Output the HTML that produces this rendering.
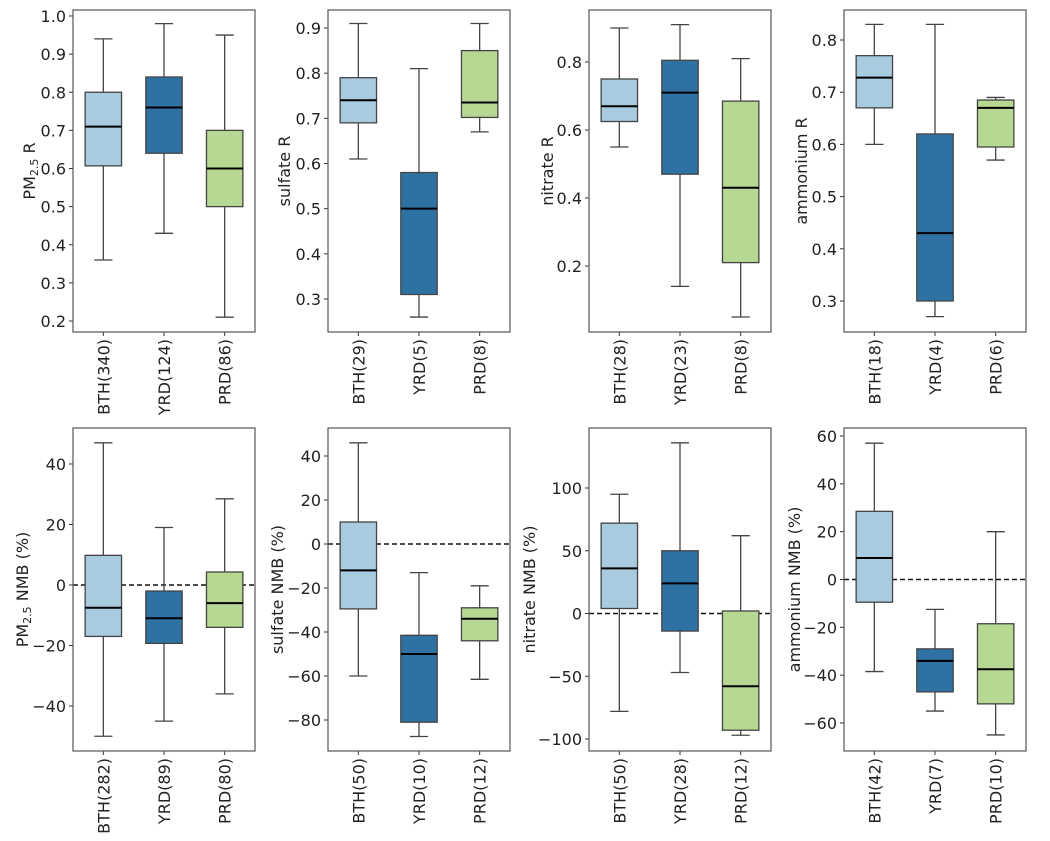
<!DOCTYPE html>
<html><head><meta charset="utf-8"><style>
html,body{margin:0;padding:0;background:#fff;}
svg{display:block;font-family:"DejaVu Sans","Liberation Sans",sans-serif;}
</style></head><body>
<svg id="chart" width="1050" height="841" viewBox="0 0 1050 841" xmlns="http://www.w3.org/2000/svg"></svg>
<script>
const categories = ["BTH","YRD","PRD"];
const colors = ["#a9cbe0","#2e72a3","#b6d892"];
// counts per panel
const countsTop = [[340,124,86],[29,5,8],[28,23,8],[18,4,6]];
const countsBottom = [[282,89,80],[50,10,12],[50,28,12],[42,7,10]];
// box stats: [low whisker, q1, median, q3, high whisker]
const pm25R = [[0.36,0.607,0.71,0.80,0.94],[0.43,0.64,0.76,0.84,0.98],[0.21,0.50,0.60,0.70,0.95]];
const sulfateR = [[0.61,0.69,0.74,0.79,0.91],[0.26,0.31,0.50,0.58,0.81],[0.67,0.702,0.735,0.85,0.91]];
const nitrateR = [[0.55,0.625,0.67,0.75,0.90],[0.14,0.47,0.71,0.805,0.91],[0.05,0.21,0.43,0.685,0.81]];
const ammoniumR = [[0.60,0.67,0.728,0.77,0.83],[0.27,0.30,0.43,0.62,0.83],[0.57,0.595,0.67,0.685,0.69]];
const pm25NMB = [[-50,-17,-7.5,9.8,47],[-45,-19.3,-11,-2,19],[-36,-14,-6,4.3,28.5]];
const sulfateNMB = [[-60,-29.5,-12,10,46],[-87.5,-81,-50,-41.5,-13],[-61.5,-44,-34,-29,-19]];
const nitrateNMB = [[-78,4,36,72,95],[-47,-14,24,50,136],[-97,-93,-58,2,62]];
const ammoniumNMB = [[-38.5,-9.5,9,28.5,57],[-55,-47,-34,-29,-12.5],[-65,-52,-37.5,-18.5,20]];
// tick labels
const ticksPm25R = [0.2,0.3,0.4,0.5,0.6,0.7,0.8,0.9,1.0];
const ticksSulfateR = [0.3,0.4,0.5,0.6,0.7,0.8,0.9];
const ticksNitrateR = [0.2,0.4,0.6,0.8];
const ticksAmmoniumR = [0.3,0.4,0.5,0.6,0.7,0.8];
const ticksPm25NMB = [-40,-20,0,20,40];
const ticksSulfateNMB = [-80,-60,-40,-20,0,20,40];
const ticksNitrateNMB = [-100,-50,0,50,100];
const ticksAmmoniumNMB = [-60,-40,-20,0,20,40,60];

const NS="http://www.w3.org/2000/svg";
const svg=document.getElementById('chart');
function mk(tag,attrs,parent){const e=document.createElementNS(NS,tag);for(const k in attrs)e.setAttribute(k,attrs[k]);(parent||svg).appendChild(e);return e;}
function fmt(v,dec){let s=dec?v.toFixed(1):String(v);return s.replace('-','\u2212');}

const panels=[
 {id:'pm25-r',x:73,y:10,h:322,data:pm25R,ticks:ticksPm25R,dec:true,cal:[1.0,16,0.2,321],label:'PM',sub:'2.5',rest:' R',lx:30,counts:countsTop[0],zero:false},
 {id:'sulfate-r',x:328,y:10,h:322,data:sulfateR,ticks:ticksSulfateR,dec:true,cal:[0.9,28,0.3,299],label:'sulfate R',lx:285,counts:countsTop[1],zero:false},
 {id:'nitrate-r',x:589,y:10,h:322,data:nitrateR,ticks:ticksNitrateR,dec:true,cal:[0.8,62,0.2,266],label:'nitrate R',lx:548,counts:countsTop[2],zero:false},
 {id:'ammonium-r',x:844,y:10,h:322,data:ammoniumR,ticks:ticksAmmoniumR,dec:true,cal:[0.8,40,0.3,301],label:'ammonium R',lx:802,counts:countsTop[3],zero:false},
 {id:'pm25-nmb',x:73,y:428,h:323,data:pm25NMB,ticks:ticksPm25NMB,dec:false,cal:[40,464,-40,706],label:'PM',sub:'2.5',rest:' NMB (%)',lx:23,counts:countsBottom[0],zero:true},
 {id:'sulfate-nmb',x:328,y:428,h:323,data:sulfateNMB,ticks:ticksSulfateNMB,dec:false,cal:[40,456,-80,720],label:'sulfate NMB (%)',lx:278,counts:countsBottom[1],zero:true},
 {id:'nitrate-nmb',x:589,y:428,h:323,data:nitrateNMB,ticks:ticksNitrateNMB,dec:false,cal:[100,488,-100,739],label:'nitrate NMB (%)',lx:530,counts:countsBottom[2],zero:true},
 {id:'ammonium-nmb',x:844,y:428,h:323,data:ammoniumNMB,ticks:ticksAmmoniumNMB,dec:false,cal:[60,436,-60,723],label:'ammonium NMB (%)',lx:795,counts:countsBottom[3],zero:true}
];
const W=182;
const FS=16;
panels.forEach(p=>{
 const g=mk('g',{});
 
 
 const [v0,y0,v1,y1]=p.cal;
 const ys=v=>y0+(v-v0)*(y1-y0)/(v1-v0);
 const step=W/3;
 const xs=i=>p.x+step*(i+0.5);
 const bw=step*0.6;
 if(p.zero){
  const z=mk('line',{x1:p.x,x2:p.x+W,y1:ys(0),y2:ys(0),stroke:'#111','stroke-width':1.5,'stroke-dasharray':'5,3'},g);
  
  
 }
 p.data.forEach((d,i)=>{
  const cx=xs(i);
  const bg=mk('g',{},g);
  
  
  mk('line',{x1:cx,x2:cx,y1:ys(d[0]),y2:ys(d[1]),stroke:'#444','stroke-width':1.3},bg);
  mk('line',{x1:cx,x2:cx,y1:ys(d[3]),y2:ys(d[4]),stroke:'#444','stroke-width':1.3},bg);
  mk('line',{x1:cx-bw/4,x2:cx+bw/4,y1:ys(d[0]),y2:ys(d[0]),stroke:'#444','stroke-width':1.3},bg);
  mk('line',{x1:cx-bw/4,x2:cx+bw/4,y1:ys(d[4]),y2:ys(d[4]),stroke:'#444','stroke-width':1.3},bg);
  mk('rect',{x:cx-bw/2,y:ys(d[3]),width:bw,height:ys(d[1])-ys(d[3]),fill:colors[i],stroke:'#444','stroke-width':1.3},bg);
  mk('line',{x1:cx-bw/2,x2:cx+bw/2,y1:ys(d[2]),y2:ys(d[2]),stroke:'#000','stroke-width':2},bg);
  mk('line',{x1:cx,x2:cx,y1:p.y+p.h,y2:p.y+p.h+4,stroke:'#333','stroke-width':1},g);
  const t=mk('text',{transform:`translate(${cx+6},${p.y+p.h+7}) rotate(-90)`,'text-anchor':'end','font-size':FS,fill:'#222'},g);
  t.textContent=categories[i]+'('+p.counts[i]+')';
  
  
 });
 p.ticks.forEach(v=>{
  const y=ys(v);
  mk('line',{x1:p.x-4,x2:p.x,y1:y,y2:y,stroke:'#333','stroke-width':1},g);
  const t=mk('text',{x:p.x-7,y:y+6,'text-anchor':'end','font-size':FS,fill:'#222'},g);
  t.textContent=fmt(v,p.dec);
  
  
 });
 const fr=mk('rect',{x:p.x,y:p.y,width:W,height:p.h,fill:'none',stroke:'#555','stroke-width':1.2},g);
 
 
 const cy=p.y+p.h/2;
 const lt=mk('text',{transform:`translate(${p.lx+5},${cy}) rotate(-90)`,'text-anchor':'middle','font-size':FS,fill:'#222'},g);
 
 
 if(p.sub){
  const a=mk('tspan',{},lt);a.textContent=p.label;
  const b=mk('tspan',{'font-size':11,dy:3},lt);b.textContent=p.sub;
  const c=mk('tspan',{dy:-3},lt);c.textContent=p.rest;
 } else lt.textContent=p.label;
});
</script>
</body></html>
